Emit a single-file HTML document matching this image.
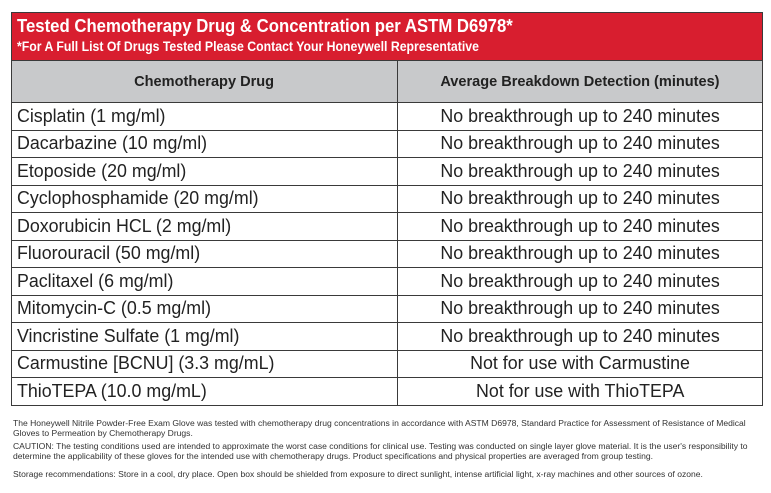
<!DOCTYPE html>
<html><head><meta charset="utf-8"><style>
body{margin:0;width:771px;height:493px;background:#fff;font-family:"Liberation Sans Narrow","Liberation Sans",sans-serif;position:relative;overflow:hidden}
.box{position:absolute;left:11px;top:12px;width:750px;border:1.5px solid #3a3a3a}
.red{background:#d81e2f;color:#fff;height:47px;border-bottom:1.5px solid #3a3a3a;position:relative}
.t1{position:absolute;left:5px;top:3px;font-size:18px;font-weight:bold;white-space:nowrap;transform:scaleX(0.93);transform-origin:left}
.t2{position:absolute;left:5px;top:26px;font-size:13.5px;font-weight:bold;white-space:nowrap;transform:scaleX(0.91);transform-origin:left}
table{border-collapse:collapse;width:100%}
td{border-top:1.5px solid #3a3a3a;height:26.5px;padding:0;font-size:18px;color:#222;white-space:nowrap}
td+td{border-left:1.5px solid #3a3a3a;text-align:center}
tr:first-child td{border-top:none;background:#c8c9cb;height:41px;font-size:15px;font-weight:bold;text-align:center}
.s{display:inline-block;transform:scaleX(0.99);transform-origin:left;padding-left:5px}
.c{display:inline-block;transform:scaleX(0.99)}
tr:first-child .c{transform:scaleX(0.97)}
.f{position:absolute;left:13px;font-size:8px;color:#333;white-space:nowrap;transform:scaleX(1.07);transform-origin:left;line-height:10px}
</style></head><body>
<div class="box">
<div class="red"><div class="t1">Tested Chemotherapy Drug &amp; Concentration per ASTM D6978*</div><div class="t2">*For A Full List Of Drugs Tested Please Contact Your Honeywell Representative</div></div>
<table>
<tr><td style="width:385px"><span class="c">Chemotherapy Drug</span></td><td><span class="c">Average Breakdown Detection (minutes)</span></td></tr>
<tr><td><span class="s">Cisplatin (1 mg/ml)</span></td><td><span class="c">No breakthrough up to 240 minutes</span></td></tr>
<tr><td><span class="s">Dacarbazine (10 mg/ml)</span></td><td><span class="c">No breakthrough up to 240 minutes</span></td></tr>
<tr><td><span class="s">Etoposide (20 mg/ml)</span></td><td><span class="c">No breakthrough up to 240 minutes</span></td></tr>
<tr><td><span class="s">Cyclophosphamide (20 mg/ml)</span></td><td><span class="c">No breakthrough up to 240 minutes</span></td></tr>
<tr><td><span class="s">Doxorubicin HCL (2 mg/ml)</span></td><td><span class="c">No breakthrough up to 240 minutes</span></td></tr>
<tr><td><span class="s">Fluorouracil (50 mg/ml)</span></td><td><span class="c">No breakthrough up to 240 minutes</span></td></tr>
<tr><td><span class="s">Paclitaxel (6 mg/ml)</span></td><td><span class="c">No breakthrough up to 240 minutes</span></td></tr>
<tr><td><span class="s">Mitomycin-C (0.5 mg/ml)</span></td><td><span class="c">No breakthrough up to 240 minutes</span></td></tr>
<tr><td><span class="s">Vincristine Sulfate (1 mg/ml)</span></td><td><span class="c">No breakthrough up to 240 minutes</span></td></tr>
<tr><td><span class="s">Carmustine [BCNU] (3.3 mg/mL)</span></td><td><span class="c">Not for use with Carmustine</span></td></tr>
<tr><td><span class="s">ThioTEPA (10.0 mg/mL)</span></td><td><span class="c">Not for use with ThioTEPA</span></td></tr>
</table>
</div>
<div class="f" style="top:419px">The Honeywell Nitrile Powder-Free Exam Glove was tested with chemotherapy drug concentrations in accordance with ASTM D6978, Standard Practice for Assessment of Resistance of Medical<br>Gloves to Permeation by Chemotherapy Drugs.</div>
<div class="f" style="top:442px">CAUTION: The testing conditions used are intended to approximate the worst case conditions for clinical use. Testing was conducted on single layer glove material. It is the user's responsibility to<br>determine the applicability of these gloves for the intended use with chemotherapy drugs. Product specifications and physical properties are averaged from group testing.</div>
<div class="f" style="top:470px">Storage recommendations: Store in a cool, dry place. Open box should be shielded from exposure to direct sunlight, intense artificial light, x-ray machines and other sources of ozone.</div>
</body></html>
